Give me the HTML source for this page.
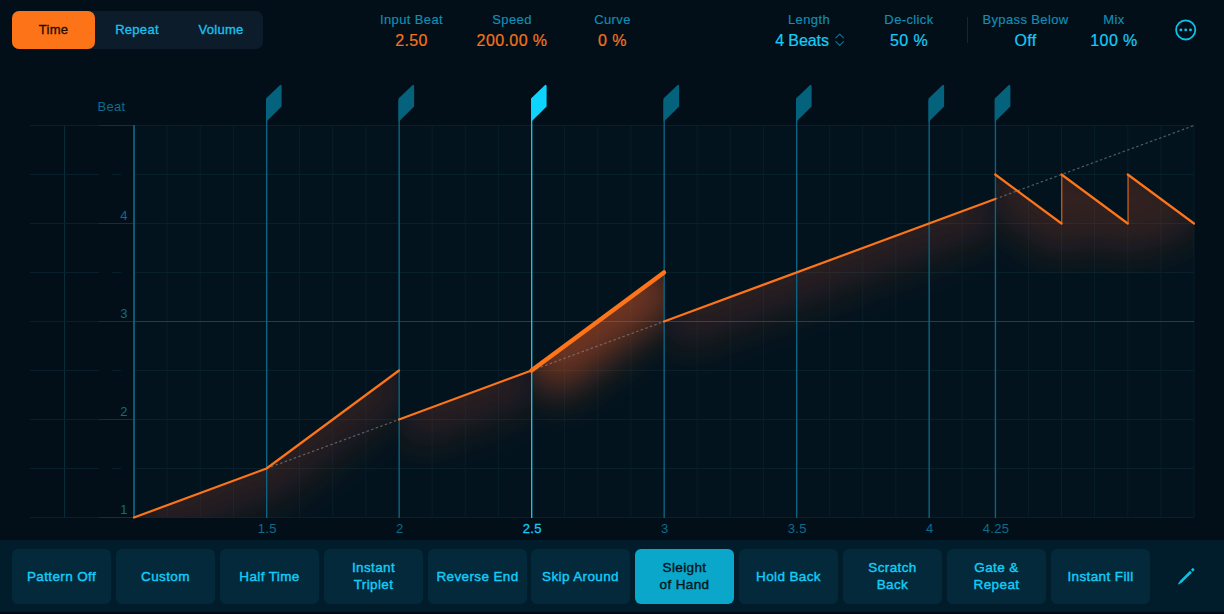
<!DOCTYPE html>
<html><head><meta charset="utf-8">
<style>
*{box-sizing:border-box;margin:0;padding:0}
html,body{width:1224px;height:614px;overflow:hidden;background:#020f19;font-family:"Liberation Sans",sans-serif;}
#root{position:relative;width:1224px;height:614px;background:#020f19;overflow:hidden}
.seg{position:absolute;left:12px;top:11px;width:251px;height:38px;background:#0c1c2b;border-radius:7px}
.seg div{position:absolute;top:0;height:38px;line-height:38px;text-align:center;font-size:13px;color:#19c3f0;letter-spacing:.3px;-webkit-text-stroke:.3px currentColor}
.seg .on{left:0;width:83px;background:#fd7317;border-radius:7px;color:#1a0e06}
.p{position:absolute;top:0;text-align:center;white-space:nowrap;transform:translateX(-50%)}
.p .l{position:absolute;left:50%;transform:translateX(-50%);top:11.8px;font-size:13px;line-height:16px;color:#0e90b8;letter-spacing:.38px;-webkit-text-stroke:.15px currentColor}
.p .v{position:absolute;left:50%;transform:translateX(-50%);top:30.8px;font-size:16px;line-height:20px;color:#f5731c;letter-spacing:.4px;-webkit-text-stroke:.2px currentColor}
.p.c .v{color:#14ccf8}
.bar{position:absolute;left:0;top:540px;width:1224px;height:72px;background:#011d2b}
.bb{position:absolute;top:9px;height:55px;width:99px;border-radius:6px;background:#03293a;color:#12cdf8;font-size:13.5px;line-height:17px;padding-bottom:1px;display:flex;align-items:center;justify-content:center;text-align:center;letter-spacing:.38px;-webkit-text-stroke:.4px currentColor}
.bb.on{background:#0ba7cb;color:#03141c}
.btm{position:absolute;left:0;top:612px;width:1224px;height:2px;background:#010a12}
svg text{font-family:"Liberation Sans",sans-serif}
</style></head><body><div id="root">
<div class="seg"><div class="on">Time</div><div style="left:83px;width:84px">Repeat</div><div style="left:167px;width:84px">Volume</div></div>

<div class="p" style="left:411.5px"><span class="l">Input Beat</span><span class="v">2.50</span></div>
<div class="p" style="left:512px"><span class="l">Speed</span><span class="v">200.00 %</span></div>
<div class="p" style="left:612.5px"><span class="l">Curve</span><span class="v">0 %</span></div>
<div class="p c" style="left:809px"><span class="l">Length</span><span class="v" style="margin-left:-7px;letter-spacing:-.1px">4 Beats</span></div>
<div class="p c" style="left:909px"><span class="l">De-click</span><span class="v">50 %</span></div>
<div class="p c" style="left:1025.5px"><span class="l">Bypass Below</span><span class="v">Off</span></div>
<div class="p c" style="left:1114px"><span class="l">Mix</span><span class="v">100 %</span></div>

<svg id="g" width="1224" height="614" style="position:absolute;left:0;top:0;z-index:5;pointer-events:none">
<defs>
<linearGradient id="g0" gradientUnits="userSpaceOnUse" x1="134" y1="517.5" x2="158.97" y2="585.03"><stop offset="0" stop-color="#ff7a20" stop-opacity="0.15"/><stop offset=".35" stop-color="#ff7a20" stop-opacity="0.075"/><stop offset=".7" stop-color="#ff7a20" stop-opacity="0.019"/><stop offset="1" stop-color="#ff7a20" stop-opacity="0"/></linearGradient>
<linearGradient id="g1" gradientUnits="userSpaceOnUse" x1="266.5" y1="468.5" x2="309.31" y2="526.39"><stop offset="0" stop-color="#ff7a20" stop-opacity="0.15"/><stop offset=".35" stop-color="#ff7a20" stop-opacity="0.075"/><stop offset=".7" stop-color="#ff7a20" stop-opacity="0.019"/><stop offset="1" stop-color="#ff7a20" stop-opacity="0"/></linearGradient>
<linearGradient id="g2" gradientUnits="userSpaceOnUse" x1="399" y1="419.5" x2="423.97" y2="487.03"><stop offset="0" stop-color="#ff7a20" stop-opacity="0.15"/><stop offset=".35" stop-color="#ff7a20" stop-opacity="0.075"/><stop offset=".7" stop-color="#ff7a20" stop-opacity="0.019"/><stop offset="1" stop-color="#ff7a20" stop-opacity="0"/></linearGradient>
<linearGradient id="g3" gradientUnits="userSpaceOnUse" x1="531.5" y1="370.5" x2="587.99" y2="446.88"><stop offset="0" stop-color="#ff7a20" stop-opacity="0.4"/><stop offset=".35" stop-color="#ff7a20" stop-opacity="0.200"/><stop offset=".7" stop-color="#ff7a20" stop-opacity="0.052"/><stop offset="1" stop-color="#ff7a20" stop-opacity="0"/></linearGradient>
<linearGradient id="g4" gradientUnits="userSpaceOnUse" x1="664" y1="321.5" x2="688.97" y2="389.03"><stop offset="0" stop-color="#ff7a20" stop-opacity="0.15"/><stop offset=".35" stop-color="#ff7a20" stop-opacity="0.075"/><stop offset=".7" stop-color="#ff7a20" stop-opacity="0.019"/><stop offset="1" stop-color="#ff7a20" stop-opacity="0"/></linearGradient>
<linearGradient id="g5" gradientUnits="userSpaceOnUse" x1="995.25" y1="174.5" x2="952.44" y2="232.39"><stop offset="0" stop-color="#ff7a20" stop-opacity="0.15"/><stop offset=".35" stop-color="#ff7a20" stop-opacity="0.075"/><stop offset=".7" stop-color="#ff7a20" stop-opacity="0.019"/><stop offset="1" stop-color="#ff7a20" stop-opacity="0"/></linearGradient>
<linearGradient id="g6" gradientUnits="userSpaceOnUse" x1="1061.5" y1="174.5" x2="1018.69" y2="232.39"><stop offset="0" stop-color="#ff7a20" stop-opacity="0.15"/><stop offset=".35" stop-color="#ff7a20" stop-opacity="0.075"/><stop offset=".7" stop-color="#ff7a20" stop-opacity="0.019"/><stop offset="1" stop-color="#ff7a20" stop-opacity="0"/></linearGradient>
<linearGradient id="g7" gradientUnits="userSpaceOnUse" x1="1127.75" y1="174.5" x2="1084.94" y2="232.39"><stop offset="0" stop-color="#ff7a20" stop-opacity="0.15"/><stop offset=".35" stop-color="#ff7a20" stop-opacity="0.075"/><stop offset=".7" stop-color="#ff7a20" stop-opacity="0.019"/><stop offset="1" stop-color="#ff7a20" stop-opacity="0"/></linearGradient>
<clipPath id="cp"><rect x="134" y="120" width="1060" height="397.5"/></clipPath>
<filter id="bl0" x="-50%" y="-50%" width="200%" height="250%" filterUnits="objectBoundingBox"><feGaussianBlur stdDeviation="20"/></filter><filter id="bl1" x="-50%" y="-50%" width="200%" height="250%"><feGaussianBlur stdDeviation="20"/></filter>
</defs>
<rect x="134" y="125" width="1060" height="393" fill="#02131e"/>
<rect x="133.5" y="125" width="1" height="393" fill="#071e29"/>
<rect x="166.62" y="125" width="1" height="393" fill="#071e29"/>
<rect x="199.75" y="125" width="1" height="393" fill="#071e29"/>
<rect x="232.88" y="125" width="1" height="393" fill="#071e29"/>
<rect x="266" y="125" width="1" height="393" fill="#071e29"/>
<rect x="299.12" y="125" width="1" height="393" fill="#071e29"/>
<rect x="332.25" y="125" width="1" height="393" fill="#071e29"/>
<rect x="365.38" y="125" width="1" height="393" fill="#071e29"/>
<rect x="398.5" y="125" width="1" height="393" fill="#071e29"/>
<rect x="431.62" y="125" width="1" height="393" fill="#071e29"/>
<rect x="464.75" y="125" width="1" height="393" fill="#071e29"/>
<rect x="497.88" y="125" width="1" height="393" fill="#071e29"/>
<rect x="531" y="125" width="1" height="393" fill="#071e29"/>
<rect x="564.12" y="125" width="1" height="393" fill="#071e29"/>
<rect x="597.25" y="125" width="1" height="393" fill="#071e29"/>
<rect x="630.38" y="125" width="1" height="393" fill="#071e29"/>
<rect x="663.5" y="125" width="1" height="393" fill="#071e29"/>
<rect x="696.62" y="125" width="1" height="393" fill="#071e29"/>
<rect x="729.75" y="125" width="1" height="393" fill="#071e29"/>
<rect x="762.88" y="125" width="1" height="393" fill="#071e29"/>
<rect x="796" y="125" width="1" height="393" fill="#071e29"/>
<rect x="829.12" y="125" width="1" height="393" fill="#071e29"/>
<rect x="862.25" y="125" width="1" height="393" fill="#071e29"/>
<rect x="895.38" y="125" width="1" height="393" fill="#071e29"/>
<rect x="928.5" y="125" width="1" height="393" fill="#071e29"/>
<rect x="961.62" y="125" width="1" height="393" fill="#071e29"/>
<rect x="994.75" y="125" width="1" height="393" fill="#071e29"/>
<rect x="1027.88" y="125" width="1" height="393" fill="#071e29"/>
<rect x="1061" y="125" width="1" height="393" fill="#071e29"/>
<rect x="1094.12" y="125" width="1" height="393" fill="#071e29"/>
<rect x="1127.25" y="125" width="1" height="393" fill="#071e29"/>
<rect x="1160.38" y="125" width="1" height="393" fill="#071e29"/>
<rect x="1193.5" y="125" width="1" height="393" fill="#071e29"/>
<rect x="64" y="126" width="1" height="392" fill="#092c3a"/>
<rect x="135" y="517" width="1059" height="1" fill="#07202b"/>
<rect x="30" y="517" width="69" height="1" fill="#08202b"/>
<rect x="99" y="517" width="35" height="1" fill="#0b3242"/>
<rect x="135" y="468" width="1059" height="1" fill="#07202b"/>
<rect x="30" y="468" width="69" height="1" fill="#08202b"/>
<rect x="112" y="468" width="9" height="1" fill="#08202b"/>
<rect x="135" y="419" width="1059" height="1" fill="#07202b"/>
<rect x="30" y="419" width="69" height="1" fill="#08202b"/>
<rect x="99" y="419" width="35" height="1" fill="#0b3242"/>
<rect x="135" y="370" width="1059" height="1" fill="#07202b"/>
<rect x="30" y="370" width="69" height="1" fill="#08202b"/>
<rect x="112" y="370" width="9" height="1" fill="#08202b"/>
<rect x="135" y="321" width="1059" height="1" fill="#0b465a"/>
<rect x="30" y="321" width="69" height="1" fill="#08202b"/>
<rect x="99" y="321" width="35" height="1" fill="#0b3242"/>
<rect x="135" y="272" width="1059" height="1" fill="#07202b"/>
<rect x="30" y="272" width="69" height="1" fill="#08202b"/>
<rect x="112" y="272" width="9" height="1" fill="#08202b"/>
<rect x="135" y="223" width="1059" height="1" fill="#07202b"/>
<rect x="30" y="223" width="69" height="1" fill="#08202b"/>
<rect x="99" y="223" width="35" height="1" fill="#0b3242"/>
<rect x="135" y="174" width="1059" height="1" fill="#07202b"/>
<rect x="30" y="174" width="69" height="1" fill="#08202b"/>
<rect x="112" y="174" width="9" height="1" fill="#08202b"/>
<rect x="135" y="125" width="1059" height="1" fill="#07202b"/>
<rect x="30" y="125" width="69" height="1" fill="#08202b"/>
<rect x="99" y="125" width="35" height="1" fill="#0b3242"/>
<clipPath id="c0"><polygon points="134,517.5 266.5,468.5 399,370.5 399,517.5 134,517.5"/></clipPath>
<g clip-path="url(#c0)"><polyline points="134,517.5 266.5,468.5 399,370.5" fill="none" stroke="#f85a24" stroke-opacity="0.165" stroke-width="64" stroke-linejoin="round" filter="url(#bl0)"/></g>
<clipPath id="c1"><polygon points="399,419.5 531.5,370.5 531.5,517.5 399,517.5"/></clipPath>
<g clip-path="url(#c1)"><polyline points="399,419.5 531.5,370.5" fill="none" stroke="#f85a24" stroke-opacity="0.165" stroke-width="64" stroke-linejoin="round" filter="url(#bl0)"/></g>
<clipPath id="c2"><polygon points="531.5,370.5 664,272.5 664,517.5 531.5,517.5"/></clipPath>
<g clip-path="url(#c2)"><polyline points="531.5,370.5 664,272.5" fill="none" stroke="#fa6024" stroke-opacity="0.45" stroke-width="72" stroke-linejoin="round" filter="url(#bl1)"/></g>
<clipPath id="c3"><polygon points="664,321.5 995.25,199 995.25,517.5 664,517.5"/></clipPath>
<g clip-path="url(#c3)"><polyline points="664,321.5 995.25,199" fill="none" stroke="#f85a24" stroke-opacity="0.165" stroke-width="64" stroke-linejoin="round" filter="url(#bl0)"/></g>
<clipPath id="c4"><polygon points="995.25,174.5 1061.5,223.5 1061.5,174.5 1127.75,223.5 1127.75,174.5 1194,223.5 1194,517.5 995.25,517.5"/></clipPath>
<g clip-path="url(#c4)"><polyline points="995.25,174.5 1061.5,223.5 1061.5,174.5 1127.75,223.5 1127.75,174.5 1194,223.5" fill="none" stroke="#f85a24" stroke-opacity="0.19" stroke-width="64" stroke-linejoin="round" filter="url(#bl0)"/></g>
<rect x="133" y="125" width="2" height="393" fill="#0b5a75"/>
<rect x="266" y="100" width="1.35" height="418" fill="#0c6482"/>
<path d="M266 98.5 L279.6 85.4 Q281.6 83.8 281.6 86.4 L281.6 106.5 L266 121.9 Z" fill="#05627c"/>
<rect x="398.5" y="100" width="1.35" height="418" fill="#0c6482"/>
<path d="M398.5 98.5 L412.1 85.4 Q414.1 83.8 414.1 86.4 L414.1 106.5 L398.5 121.9 Z" fill="#05627c"/>
<rect x="531" y="100" width="1.35" height="418" fill="#1cc0ec"/>
<path d="M531 98.5 L544.6 85.4 Q546.6 83.8 546.6 86.4 L546.6 106.5 L531 121.9 Z" fill="#0cd4fc"/>
<rect x="663.5" y="100" width="1.35" height="418" fill="#0c6482"/>
<path d="M663.5 98.5 L677.1 85.4 Q679.1 83.8 679.1 86.4 L679.1 106.5 L663.5 121.9 Z" fill="#05627c"/>
<rect x="796" y="100" width="1.35" height="418" fill="#0c6482"/>
<path d="M796 98.5 L809.6 85.4 Q811.6 83.8 811.6 86.4 L811.6 106.5 L796 121.9 Z" fill="#05627c"/>
<rect x="928.5" y="100" width="1.35" height="418" fill="#0c6482"/>
<path d="M928.5 98.5 L942.1 85.4 Q944.1 83.8 944.1 86.4 L944.1 106.5 L928.5 121.9 Z" fill="#05627c"/>
<rect x="994.75" y="100" width="1.35" height="418" fill="#0c6482"/>
<path d="M994.75 98.5 L1008.35 85.4 Q1010.35 83.8 1010.35 86.4 L1010.35 106.5 L994.75 121.9 Z" fill="#05627c"/>
<line x1="266.5" y1="468.5" x2="399" y2="419.5" stroke="#8a9aa3" stroke-width="1.2" stroke-dasharray="2.5 2.35" opacity=".55"/>
<line x1="531.5" y1="370.5" x2="664" y2="321.5" stroke="#8a9aa3" stroke-width="1.2" stroke-dasharray="2.5 2.35" opacity=".55"/>
<line x1="995.25" y1="199" x2="1194" y2="125.5" stroke="#8a9aa3" stroke-width="1.2" stroke-dasharray="2.5 2.35" opacity=".55"/>
<polyline points="134,517.5 266.5,468.5 399,370.5" fill="none" stroke="#fd7419" stroke-width="2.2" stroke-linejoin="round" stroke-linecap="round"/>
<polyline points="399,419.5 531.5,370.5" fill="none" stroke="#fd7419" stroke-width="2.2" stroke-linecap="round"/>
<polyline points="531.5,370.5 664,272.5" fill="none" stroke="#fd7419" stroke-width="4.5" stroke-linecap="round"/>
<polyline points="664,321.5 995.25,199" fill="none" stroke="#fd7419" stroke-width="2.2" stroke-linecap="round"/>
<line x1="995.25" y1="174.5" x2="1061.5" y2="223.5" stroke="#fd7419" stroke-width="2.2" stroke-linecap="round"/>
<line x1="1061.5" y1="174.5" x2="1127.75" y2="223.5" stroke="#fd7419" stroke-width="2.2" stroke-linecap="round"/>
<line x1="1127.75" y1="174.5" x2="1194" y2="223.5" stroke="#fd7419" stroke-width="2.2" stroke-linecap="round"/>
<line x1="1061.8" y1="174.5" x2="1061.8" y2="223.5" stroke="#fd7419" stroke-width="1.1" opacity=".85"/>
<line x1="1128.05" y1="174.5" x2="1128.05" y2="223.5" stroke="#fd7419" stroke-width="1.1" opacity=".85"/>
<text x="97.5" y="111.3" font-size="13" fill="#0d6c8a" letter-spacing=".3">Beat</text>
<text x="127.5" y="514.3" font-size="13" fill="#0d6c8a" text-anchor="end">1</text>
<text x="127.5" y="416.3" font-size="13" fill="#0d6c8a" text-anchor="end">2</text>
<text x="127.5" y="318.3" font-size="13" fill="#0d6c8a" text-anchor="end">3</text>
<text x="127.5" y="220.3" font-size="13" fill="#0d6c8a" text-anchor="end">4</text>
<text x="267.2" y="532.8" font-size="13" fill="#0d6c8a" text-anchor="middle" letter-spacing=".3">1.5</text>
<text x="399.7" y="532.8" font-size="13" fill="#0d6c8a" text-anchor="middle" letter-spacing=".3">2</text>
<text x="532.2" y="532.8" font-size="13" fill="#19c8f5" text-anchor="middle" letter-spacing=".3" stroke="#19c8f5" stroke-width=".3">2.5</text>
<text x="664.7" y="532.8" font-size="13" fill="#0d6c8a" text-anchor="middle" letter-spacing=".3">3</text>
<text x="797.2" y="532.8" font-size="13" fill="#0d6c8a" text-anchor="middle" letter-spacing=".3">3.5</text>
<text x="929.7" y="532.8" font-size="13" fill="#0d6c8a" text-anchor="middle" letter-spacing=".3">4</text>
<text x="995.95" y="532.8" font-size="13" fill="#0d6c8a" text-anchor="middle" letter-spacing=".3">4.25</text>
<rect x="967" y="17" width="1" height="26" fill="#0c2a3a"/>
<path d="M835.9 37.8 L839.7 34.1 L843.5 37.8 M835.9 41.6 L839.7 45.3 L843.5 41.6" fill="none" stroke="#0c7492" stroke-width="1.15" stroke-linecap="round" stroke-linejoin="round"/>
<circle cx="1185.7" cy="29.9" r="9.6" fill="none" stroke="#0cc2e6" stroke-width="1.8"/>
<circle cx="1180.9" cy="29.9" r="1.45" fill="#0cc2e6"/>
<circle cx="1185.7" cy="29.9" r="1.45" fill="#0cc2e6"/>
<circle cx="1190.5" cy="29.9" r="1.45" fill="#0cc2e6"/>
<g transform="translate(1186.05,576.55) rotate(45)" fill="#0cc2e6"><path d="M-1.35 -6.9 L1.35 -6.9 L1.35 7.2 L0.35 11 L-0.35 11 L-1.35 7.2 Z"/><rect x="-1.4" y="-10.9" width="2.8" height="2.7" rx=".7"/></g>
</svg>

<div class="bar">
<div class="bb" style="left:12px">Pattern Off</div>
<div class="bb" style="left:116px">Custom</div>
<div class="bb" style="left:220px">Half Time</div>
<div class="bb" style="left:324px">Instant<br>Triplet</div>
<div class="bb" style="left:428px">Reverse End</div>
<div class="bb" style="left:531px">Skip Around</div>
<div class="bb on" style="left:635px">Sleight<br>of Hand</div>
<div class="bb" style="left:739px">Hold Back</div>
<div class="bb" style="left:843px">Scratch<br>Back</div>
<div class="bb" style="left:947px">Gate &amp;<br>Repeat</div>
<div class="bb" style="left:1051px">Instant Fill</div>
</div>
<div class="btm"></div>
</div></body></html>
